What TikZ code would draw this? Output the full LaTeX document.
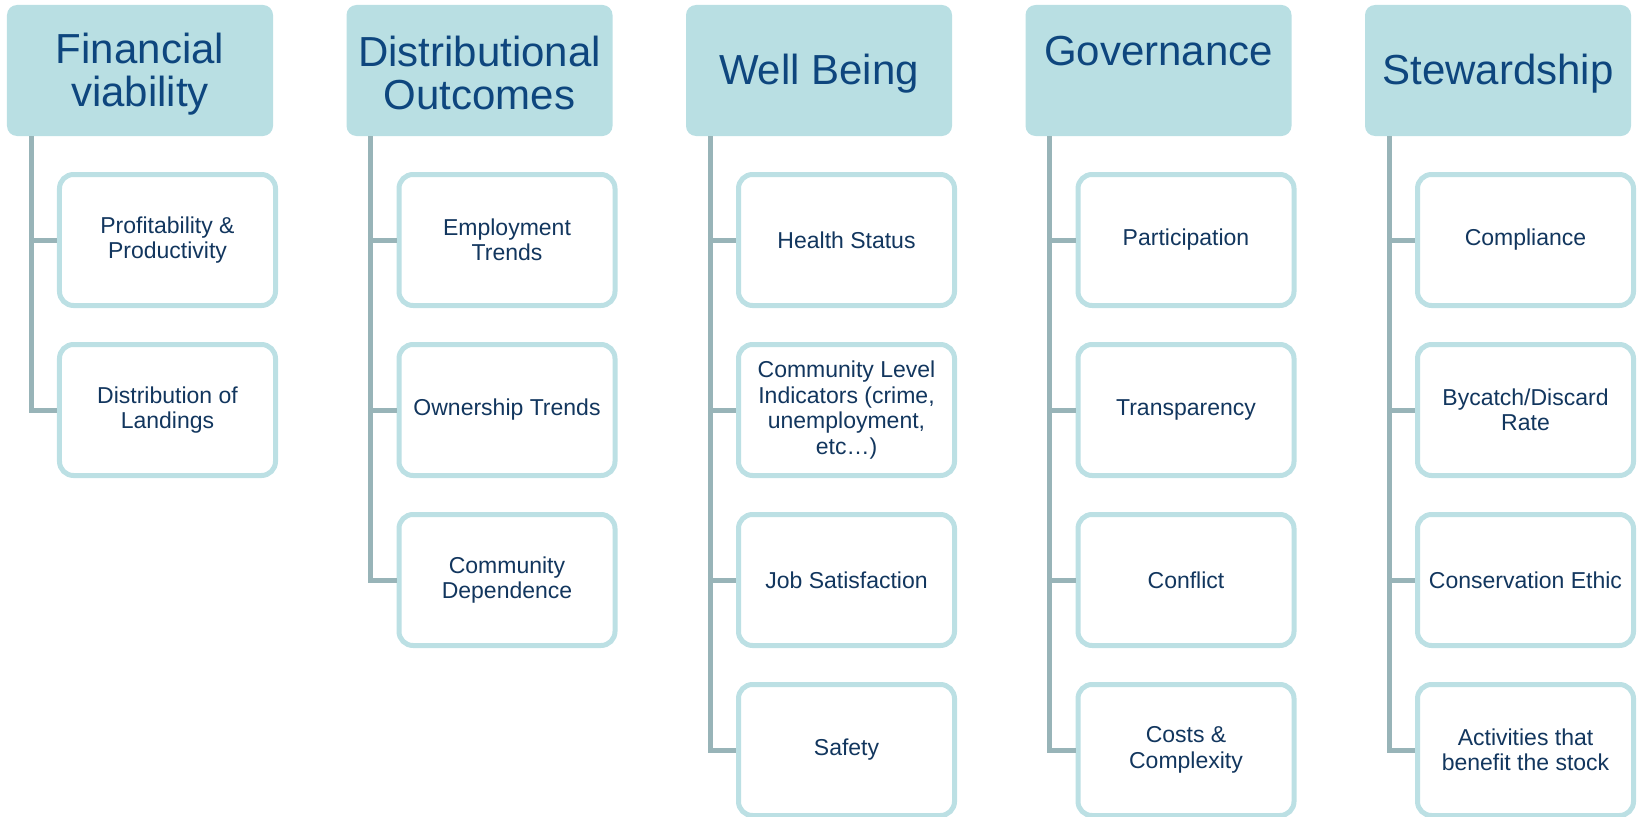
\documentclass[tikz,border=0pt]{standalone}
\usepackage{fontspec}
\setmainfont{Liberation Sans}
\definecolor{hdrfill}{HTML}{B9DFE3}
\definecolor{hdrtext}{HTML}{0E467E}
\definecolor{cbord}{HTML}{BCE0E4}
\definecolor{ctext}{HTML}{12365E}
\definecolor{conncol}{HTML}{98B4B8}
\tikzset{
  hdr/.style={rectangle, rounded corners=10bp, fill=hdrfill, draw=none,
    minimum width=266bp, minimum height=131bp, inner sep=0pt, align=center,
    text=hdrtext, font=\fontsize{42bp}{43bp}\selectfont},
  hdrtxt/.style={inner sep=0pt, align=center, text=hdrtext,
    font=\fontsize{42bp}{43bp}\selectfont},
  child/.style={rectangle, rounded corners=14bp, fill=white, draw=cbord, line width=5bp,
    minimum width=216bp, minimum height=131bp, inner sep=0pt, align=center,
    text=ctext, font=\fontsize{23bp}{25.5bp}\selectfont},
  conn/.style={draw=conncol, line width=5bp}
}
\begin{document}
\begin{tikzpicture}[x=1bp,y=-1bp]
\useasboundingbox (0,0) rectangle (1637,817);
% column 1
\node[hdr] (h1) at (140,70.5) {};
\node[hdrtxt] (l1) at ([yshift=-4bp]h1.center) {Financial\\viability};
\coordinate (t1) at (31,136);
\node[child] (c11) at (167.5,240) {Profitability \&\\Productivity};
\node[child] (c12) at (167.5,410) {Distribution of\\Landings};
% column 2
\node[hdr] (h2) at (479.5,70.5) {};
\node[hdrtxt] (l2) at ([yshift=-2bp]h2.center) {Distributional\\Outcomes};
\coordinate (t2) at (370.5,136);
\node[child] (c21) at (507,240) {Employment\\Trends};
\node[child] (c22) at (507,410) {Ownership Trends};
\node[child] (c23) at (507,580) {Community\\Dependence};
% column 3
\node[hdr] (h3) at (819,70.5) {};
\node[hdrtxt] (l3) at ([yshift=-3bp]h3.center) {Well Being};
\coordinate (t3) at (710,136);
\node[child] (c31) at (846.5,240) {Health Status};
\node[child] (c32) at (846.5,410) {Community Level\\Indicators (crime,\\unemployment,\\etc…)};
\node[child] (c33) at (846.5,580) {Job Satisfaction};
\node[child] (c34) at (846.5,750) {Safety};
% column 4
\node[hdr] (h4) at (1158.5,70.5) {};
\node[hdrtxt] (l4) at ([yshift=-2bp]h4.center) {Governance\\\mbox{}};
\coordinate (t4) at (1049.5,136);
\node[child] (c41) at (1186,240) {Participation};
\node[child] (c42) at (1186,410) {Transparency};
\node[child] (c43) at (1186,580) {Conflict};
\node[child] (c44) at (1186,750) {Costs \&\\Complexity};
% column 5
\node[hdr] (h5) at (1498,70.5) {};
\node[hdrtxt] (l5) at ([yshift=-3bp]h5.center) {Stewardship};
\coordinate (t5) at (1389,136);
\node[child] (c51) at (1525.5,240) {Compliance};
\node[child] (c52) at (1525.5,410) {Bycatch/Discard\\Rate};
\node[child] (c53) at (1525.5,580) {Conservation Ethic};
\node[child] (c54) at (1525.5,750) {Activities that\\benefit the stock};
% connectors
\foreach \t/\c in {t1/c11,t1/c12,t2/c21,t2/c22,t2/c23,t3/c31,t3/c32,t3/c33,t3/c34,t4/c41,t4/c42,t4/c43,t4/c44,t5/c51,t5/c52,t5/c53,t5/c54}{
  \draw[conn] (\t) |- (\c.west);
}
\end{tikzpicture}
\end{document}
